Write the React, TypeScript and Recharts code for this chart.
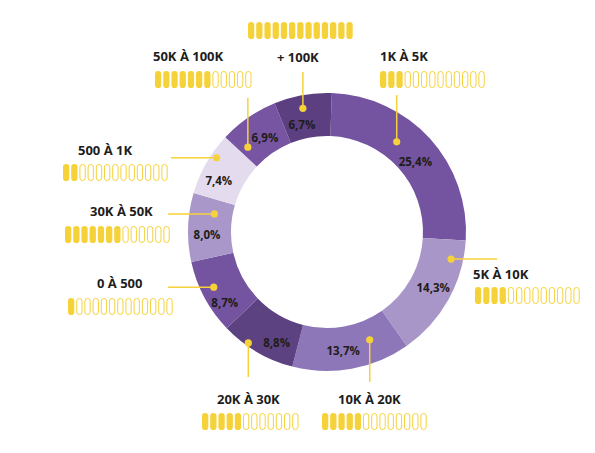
import React from 'react'
import { PieChart, Pie, Cell } from 'recharts'

// slices, clockwise from the top
const categories = ['1K À 5K', '5K À 10K', '10K À 20K', '20K À 30K', '0 À 500', '30K À 50K', '500 À 1K', '50K À 100K', '+ 100K']
const shares = [25.4, 14.3, 13.7, 8.8, 8.7, 8.0, 7.4, 6.9, 6.7]
// yellow capsule rating under each label
const pillsFilled = [3, 4, 5, 5, 1, 7, 2, 7, 13]
const pillsTotal = [13, 13, 13, 12, 13, 13, 13, 12, 13]

const SLICE_COLORS = ['#7453a0', '#a996c8', '#8e77b8', '#5d4282', '#7453a0', '#a897c8', '#e4dcee', '#7755a3', '#5b3f80']
const YELLOW = '#f6d23a'
const INK = '#1d1d1b'
const FONT = '"Open Sans", sans-serif'

// label layout per slice:
//  lt/lr  = percent text at fraction lt of the slice sweep, radius lr
//  t/r    = callout dot at fraction t of the sweep, radius r; leader runs (v/h) to `end`
//  tx/ty  = category text, px/py = capsule row
const CALLOUTS = [
  { lt: 0.54, lr: 113, t: 0.39, r: 114, dir: 'v', end: 95, tx: 380, ty: 61, px: 380, py: 71 },
  { lt: 0.47, lr: 120, t: 0.17, r: 127, dir: 'h', end: 497, tx: 473, ty: 279, px: 475, py: 287 },
  { lt: 0.55, lr: 120, t: 0.27, r: 116, dir: 'v', end: 382, tx: 338, ty: 404, px: 322, py: 413 },
  { lt: 0.32, lr: 121, t: 0.66, r: 136, dir: 'v', end: 377, tx: 217, ty: 404, px: 202, py: 413 },
  { lt: 0.30, lr: 124, t: 0.57, r: 126, dir: 'h', end: 168, tx: 97, ty: 288, px: 68, py: 298 },
  { lt: 0.39, lr: 120, t: 0.75, r: 114, dir: 'h', end: 168, tx: 90, ty: 216, px: 65, py: 226 },
  { lt: 0.35, lr: 120, t: 0.66, r: 133, dir: 'h', end: 171, tx: 78, ty: 155, px: 63, py: 164 },
  { lt: 0.55, lr: 113, t: 0.16, r: 116, dir: 'v', end: 98, tx: 153, ty: 61, px: 155, py: 71 },
  { lt: 0.37, lr: 110, t: 0.46, r: 126, dir: 'v', end: 72, tx: 277, ty: 62, px: 248, py: 22 },
]

const data = categories.map((name, i) => ({
  name,
  value: shares[i],
  filled: pillsFilled[i],
  total: pillsTotal[i],
}))

const RAD = Math.PI / 180

function Pills({ x, y, filled, total }: { x: number; y: number; filled: number; total: number }) {
  const pitch = 8.2
  const w = 6.3
  const h = 17
  return (
    <g>
      {Array.from({ length: total }).map((_, i) =>
        i < filled ? (
          <rect key={i} x={x + i * pitch} y={y} width={w} height={h} rx={3.1} fill={YELLOW} />
        ) : (
          <rect key={i} x={x + i * pitch + 0.5} y={y + 0.5} width={w - 1} height={h - 1} rx={2.6} fill="#fff" stroke={YELLOW} strokeWidth={1} />
        )
      )}
    </g>
  )
}

function renderLabel(props: any) {
  const { cx, cy, innerRadius, outerRadius, startAngle, endAngle, index, value, payload } = props
  const c = CALLOUTS[index]
  const sweep = endAngle - startAngle

  const la = startAngle + sweep * c.lt
  const lx = cx + c.lr * Math.cos(-la * RAD)
  const ly = cy + c.lr * Math.sin(-la * RAD)

  const a = startAngle + sweep * c.t
  const dx = cx + c.r * Math.cos(-a * RAD)
  const dy = cy + c.r * Math.sin(-a * RAD)
  const x2 = c.dir === 'h' ? c.end : dx
  const y2 = c.dir === 'v' ? c.end : dy

  return (
    <g key={`lbl-${index}`}>
      <text x={lx} y={ly} textAnchor="middle" dominantBaseline="central" fontFamily={FONT} fontWeight={700} fontSize={11.5} fill={INK}>
        {Number(value).toFixed(1).replace('.', ',')}%
      </text>
      <line x1={dx} y1={dy} x2={x2} y2={y2} stroke={YELLOW} strokeWidth={1.5} />
      <circle cx={dx} cy={dy} r={3.6} fill={YELLOW} />
      <text x={c.tx} y={c.ty} fontFamily={FONT} fontWeight={700} fontSize={13} fill={INK}>
        {payload.name}
      </text>
      <Pills x={c.px} y={c.py} filled={payload.filled} total={payload.total} />
    </g>
  )
}

export default function App() {
  return (
    <div style={{ position: 'absolute', left: 0, top: 0, width: 595, height: 453, background: '#fff' }}>
      <PieChart width={595} height={453} margin={{ top: 0, right: 0, bottom: 0, left: 0 }}>
        <Pie
          data={data}
          dataKey="value"
          nameKey="name"
          cx={327}
          cy={232}
          innerRadius={96}
          outerRadius={139}
          startAngle={88}
          endAngle={-272}
          paddingAngle={0}
          stroke="none"
          label={renderLabel}
          labelLine={false}
          isAnimationActive={false}
        >
          {data.map((entry, index) => (
            <Cell key={`cell-${index}`} fill={SLICE_COLORS[index]} />
          ))}
        </Pie>
      </PieChart>
    </div>
  )
}
